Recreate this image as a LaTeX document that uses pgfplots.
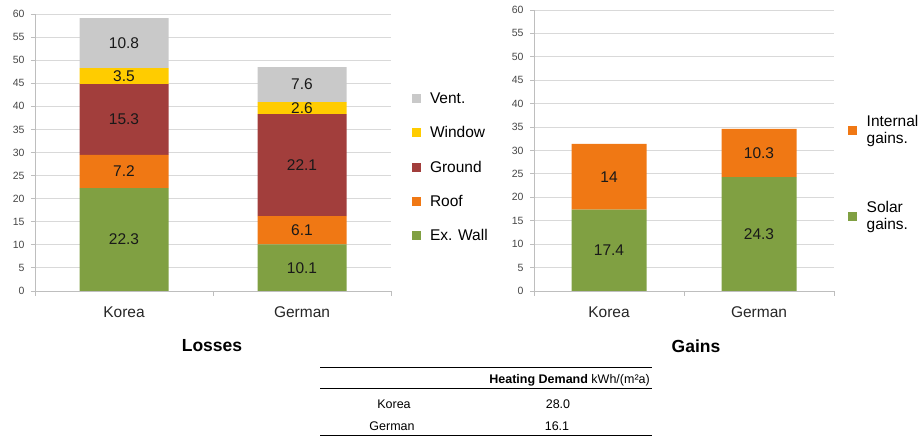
\documentclass[border=0pt]{standalone}
\usepackage{fontspec}
\setmainfont{Liberation Sans}
\usepackage{pgfplots}
\usepackage{pgfplotstable}
\pgfplotsset{compat=1.18}

\definecolor{cWall}{RGB}{128,160,66}
\definecolor{cRoof}{RGB}{240,120,20}
\definecolor{cGround}{RGB}{162,62,60}
\definecolor{cWindow}{RGB}{255,204,0}
\definecolor{cVent}{RGB}{201,201,201}
\definecolor{cGrid}{RGB}{217,217,217}
\definecolor{cAxis}{RGB}{190,190,190}
\definecolor{cTick}{RGB}{70,70,70}

\newcommand\valfont{\fontsize{15.5bp}{18bp}\selectfont}
\newcommand\catfont{\fontsize{15.5bp}{18bp}\selectfont}
\newcommand\legfont{\fontsize{15.5bp}{17bp}\selectfont}
\newcommand\tickfont{\fontsize{10.5bp}{12bp}\selectfont}
\newcommand\titlefont{\fontsize{17.5bp}{20bp}\selectfont\bfseries}
\newcommand\tabfont{\fontsize{12.5bp}{14bp}\selectfont}

% heat losses per building element, kWh/(m2a)
\pgfplotstableread{
x wall roof ground window vent
0 22.3 7.2 15.3 3.5 10.8
1 10.1 6.1 22.1 2.6 7.6
}\losses

% heat gains, kWh/(m2a)
\pgfplotstableread{
x solar internal
0 17.4 14
1 24.3 10.3
}\gains

\pgfplotsset{
  stackchart/.style={
    ybar stacked, bar width=0.5, scale only axis,
    xmin=-0.5, xmax=1.5, ymin=0, ymax=60,
    ytick={0,5,...,60},
    xtick={0,1}, xticklabels={Korea,German},
    axis x line=bottom, axis y line=left,
    axis line style={-, draw=cAxis, line width=0.9bp},
    ymajorgrids, grid style={draw=cGrid, line width=0.9bp},
    tick align=outside, major tick length=4bp,
    ytick style={draw=cAxis, line width=0.9bp},
    xtick style={draw=none},
    extra x ticks={-0.5,0.5,1.5}, extra x tick labels={},
    extra x tick style={grid=none, major tick length=5bp,
      xtick style={draw=cAxis, line width=0.9bp}},
    /pgf/number format/assume math mode=true,
    yticklabel style={font=\tickfont, text=cTick, xshift=-3bp},
    xticklabel style={font=\catfont, text=black!85, yshift=-8bp},
    legend style={draw=none, fill=none, font=\legfont, inner sep=0pt,
      outer sep=0pt, column sep=9.5bp,
      nodes={inner sep=0pt, align=left}},
    legend cell align=left,
    reverse legend,
    legend image code/.code={\fill[##1] (0bp,-4.5bp) rectangle (9bp,4.5bp);},
  },
  % each segment is labelled with its own value
  seg/.style={draw=none,
    visualization depends on={\thisrow{#1}\as\segval},
    nodes near coords={\pgfmathprintnumber{\segval}},
    every node near coord/.style={anchor=center, font=\valfont,
      text=black!90}},
}

\begin{document}
\begin{tikzpicture}
\useasboundingbox (0,0) rectangle (924bp,439bp);

% losses
\begin{axis}[stackchart, at={(35bp,148bp)}, anchor=south west,
    width=356bp, height=277bp,
    legend style={at={(1.0576,0.7166)}, anchor=north west, row sep=21.7bp}]
  \addplot[seg=wall,   fill=cWall]   table[x=x,y=wall]  {\losses};
  \addplot[seg=roof,   fill=cRoof]   table[x=x,y=roof]  {\losses};
  \addplot[seg=ground, fill=cGround] table[x=x,y=ground]{\losses};
  \addplot[seg=window, fill=cWindow] table[x=x,y=window]{\losses};
  \addplot[seg=vent,   fill=cVent]   table[x=x,y=vent]  {\losses};
  \legend{Ex. Wall, Roof, Ground, Window, Vent.}
\end{axis}

% gains
\begin{axis}[stackchart, at={(534bp,148bp)}, anchor=south west,
    width=300bp, height=281bp,
    legend style={at={(1.0473,0.6246)}, anchor=north west, row sep=56.5bp}]
  \addplot[seg=solar,    fill=cWall] table[x=x,y=solar]   {\gains};
  \addplot[seg=internal, fill=cRoof] table[x=x,y=internal]{\gains};
  \legend{Solar\\gains., Internal\\gains.}
\end{axis}

\node[font=\titlefont] at (212bp,93bp) {Losses};
\node[font=\titlefont] at (696bp,93bp) {Gains};

% heating demand table
\draw[line width=1.4bp] (320bp,71.3bp) -- (652bp,71.3bp);
\draw[line width=0.6bp] (320bp,50.3bp) -- (652bp,50.3bp);
\draw[line width=1.4bp] (320bp,3.3bp) -- (652bp,3.3bp);
\node[font=\tabfont, anchor=base east, inner sep=0pt] at (650bp,55.5bp)
  {\textbf{Heating Demand} kWh/(m²a)};
\node[font=\tabfont, anchor=base, inner sep=0pt] at (394bp,31bp) {Korea};
\node[font=\tabfont, anchor=base, inner sep=0pt] at (558bp,31bp) {28.0};
\node[font=\tabfont, anchor=base, inner sep=0pt] at (392bp,9bp) {German};
\node[font=\tabfont, anchor=base, inner sep=0pt] at (557bp,9bp) {16.1};
\end{tikzpicture}
\end{document}
